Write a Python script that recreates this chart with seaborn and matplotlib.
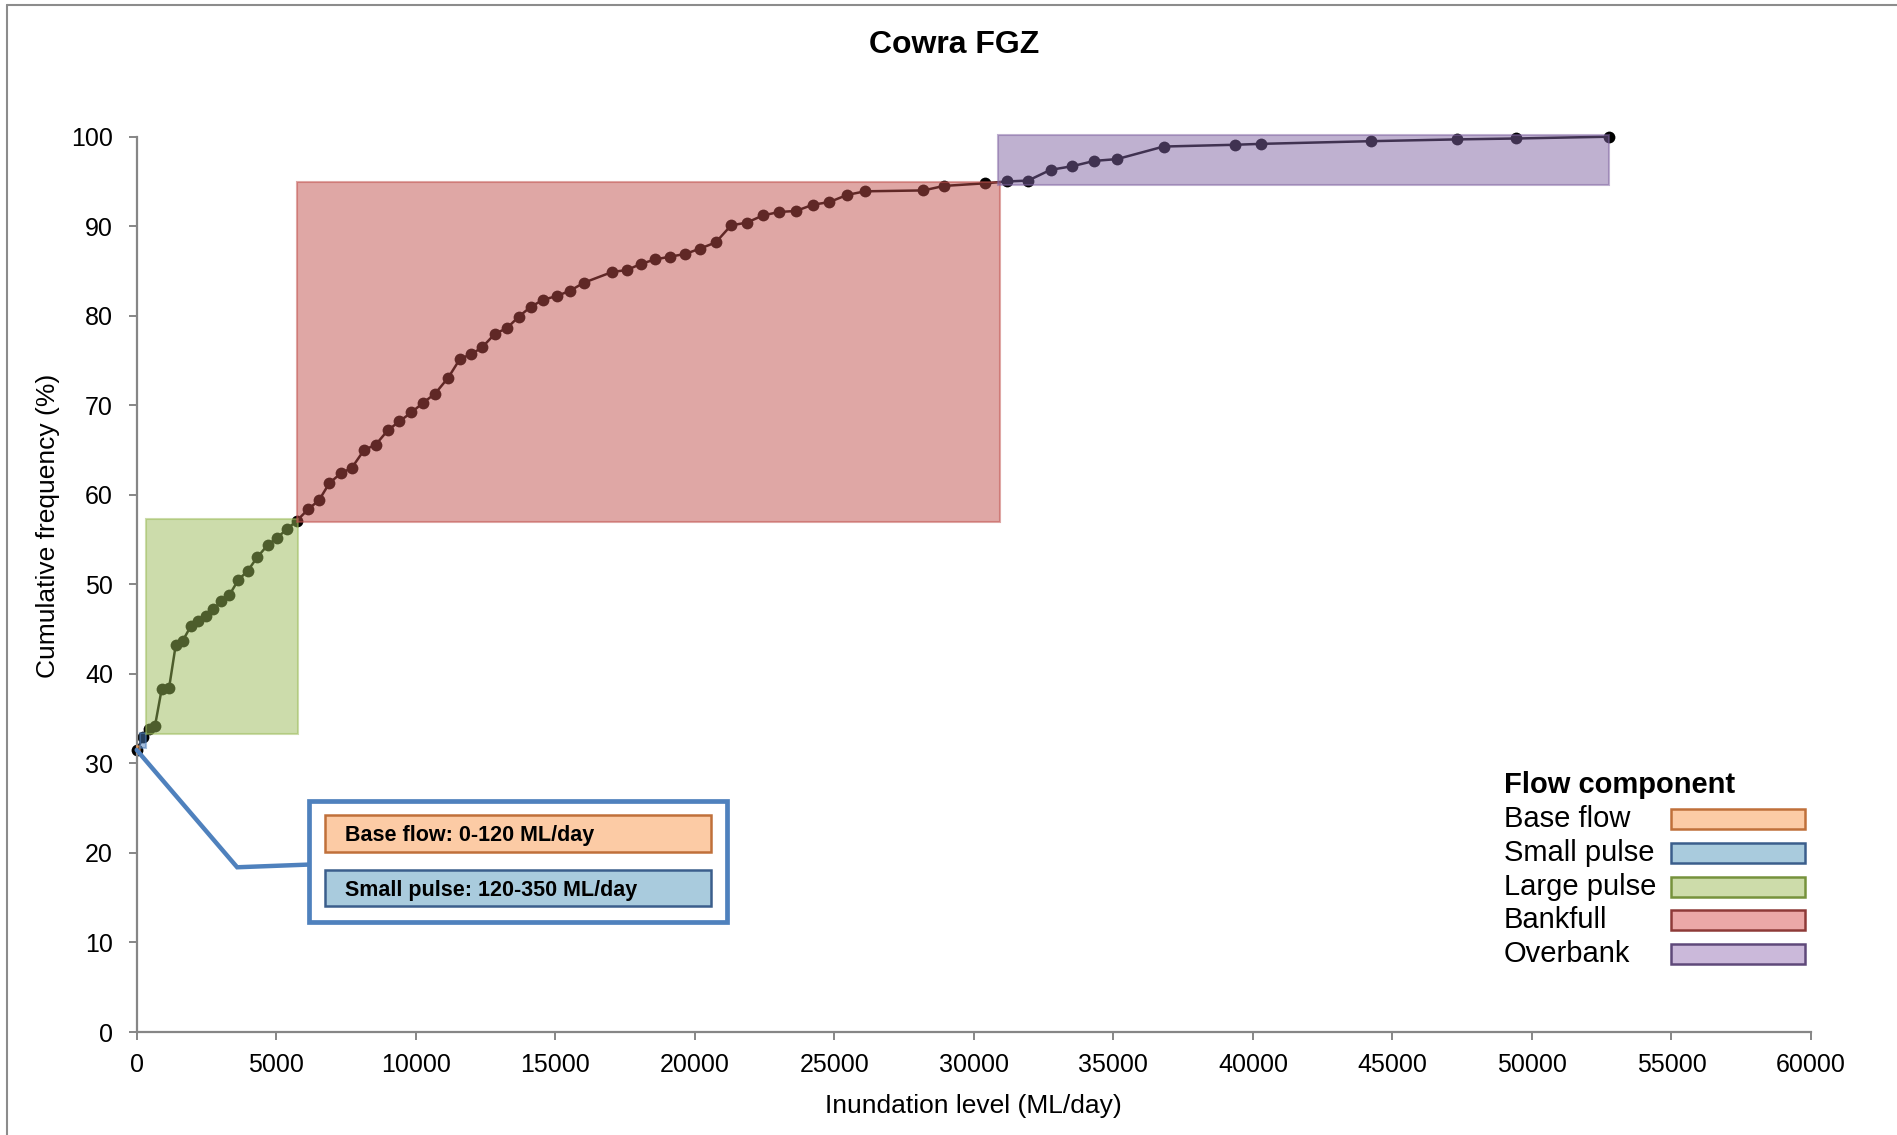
import matplotlib
matplotlib.use("Agg")
import matplotlib.pyplot as plt
import seaborn as sns
import pandas as pd
from matplotlib.patches import Rectangle
from matplotlib.lines import Line2D

# cumulative frequency curve
inundation = [0, 237, 452, 656, 896, 1158, 1398, 1649, 1935, 2208,
              2473, 2746, 3032, 3319, 3642, 3978, 4312, 4695, 5029, 5398,
              5735, 6151, 6534, 6903, 7312, 7706, 8147, 8566, 8996, 9412,
              9842, 10272, 10692, 11168, 11588, 11993, 12387, 12842, 13262, 13692,
              14122, 14574, 15054, 15530, 16032, 17047, 17563, 18075, 18588, 19115,
              19652, 20190, 20753, 21301, 21864, 22437, 23032, 23620, 24229, 24824,
              25459, 26104, 28194, 28925, 30416, 31190, 31946, 32749, 33520, 34323,
              35136, 36799, 39366, 40287, 44219, 47323, 49437, 52753]
cum_freq = [31.5, 32.9, 33.8, 34.2, 38.3, 38.4, 43.2, 43.7, 45.3, 45.9,
            46.5, 47.2, 48.1, 48.8, 50.5, 51.5, 53.0, 54.4, 55.2, 56.2,
            57.1, 58.4, 59.4, 61.3, 62.4, 63.0, 65.0, 65.6, 67.2, 68.2,
            69.2, 70.3, 71.3, 73.1, 75.2, 75.7, 76.5, 78.0, 78.6, 79.9,
            81.0, 81.8, 82.2, 82.8, 83.7, 84.9, 85.1, 85.8, 86.3, 86.6,
            86.9, 87.5, 88.2, 90.1, 90.4, 91.2, 91.6, 91.7, 92.4, 92.7,
            93.5, 93.9, 94.0, 94.5, 94.8, 95.0, 95.1, 96.3, 96.7, 97.3,
            97.5, 98.9, 99.1, 99.2, 99.5, 99.7, 99.8, 100.0]

# flow component zones
zone_names = ["Base flow", "Small pulse", "Large pulse", "Bankfull", "Overbank"]
zone_x_lo = [0, 120, 350, 5730, 30870]
zone_x_hi = [120, 350, 5790, 30920, 52760]
zone_y_lo = [31.2, 31.7, 33.3, 57.0, 94.6]
zone_y_hi = [31.9, 33.4, 57.3, 94.9, 100.2]
zone_colors = ["#F79646", "#4F81BD", "#9BBB59", "#C0504D", "#8064A2"]
legend_face = ["#FCCBA5", "#A9CBDD", "#CDDCAA", "#EBA8A7", "#CBB9DA"]
legend_edge = ["#C0703A", "#3B5E8C", "#76923C", "#8E3A38", "#5F497A"]

callout_labels = ["Base flow: 0-120 ML/day", "Small pulse: 120-350 ML/day"]

df = pd.DataFrame({"x": inundation, "y": cum_freq})

sns.set_theme(style="white")
plt.rcParams["font.family"] = ["Liberation Sans", "DejaVu Sans"]
plt.rcParams["text.color"] = "black"
plt.rcParams["axes.labelcolor"] = "black"

W, H = 1897, 1135
fig = plt.figure(figsize=(W / 100, H / 100), dpi=100)
ax = fig.add_axes([136.7 / W, 1 - 1032 / H, (1811 - 136.7) / W, (1032 - 136.7) / H])

sns.lineplot(data=df, x="x", y="y", ax=ax, color="black", marker="o",
             markersize=8.5, markeredgewidth=0, linewidth=1.8, zorder=2)
for ln in ax.lines:
    ln.set_clip_on(False)

for i in range(len(zone_names)):
    ax.add_patch(Rectangle((zone_x_lo[i], zone_y_lo[i]),
                           zone_x_hi[i] - zone_x_lo[i], zone_y_hi[i] - zone_y_lo[i],
                           facecolor=zone_colors[i], edgecolor=zone_colors[i],
                           alpha=0.5, lw=1.5, zorder=3, clip_on=False))

ax.set_xlim(0, 60000)
ax.set_ylim(0, 100)
ax.set_xticks(range(0, 60001, 5000))
ax.set_yticks(range(0, 101, 10))
for s in ["top", "right"]:
    ax.spines[s].set_visible(False)
for s in ["left", "bottom"]:
    ax.spines[s].set_color("#868686")
    ax.spines[s].set_linewidth(1.6)
ax.tick_params(axis="both", direction="out", length=6, width=1.4, color="#868686",
               labelsize=18, labelcolor="black")
ax.tick_params(axis="y", left=True, pad=11)
ax.tick_params(axis="x", bottom=True, pad=9)
ax.set_xlabel("Inundation level (ML/day)", fontsize=19, labelpad=12)
ax.set_ylabel("Cumulative frequency (%)", fontsize=19, labelpad=8)
ax.yaxis.label.set_y(0.565)
fig.text(954 / W, 1 - 45 / H, "Cowra FGZ", fontsize=23, fontweight="bold",
         ha="center", va="center")

# callout with leader line
ax.plot([inundation[0], 3600, 6160], [cum_freq[0], 18.4, 18.7],
        color="#4F81BD", lw=3.2, zorder=4, solid_joinstyle="miter", clip_on=False)


def fbox(x0, y0, x1, y1, **kw):
    fig.patches.append(Rectangle((x0 / W, 1 - y1 / H), (x1 - x0) / W, (y1 - y0) / H,
                                 transform=fig.transFigure, **kw))


fbox(308.5, 801, 727, 922, facecolor="white", edgecolor="#4F81BD", lw=3.4, zorder=5)
box_rows = [(815.4, 851.7), (869.9, 906.2)]
for (y0, y1), lab, fc, ec in zip(box_rows, callout_labels, legend_face[:2], legend_edge[:2]):
    fbox(325.4, y0, 711.4, y1, facecolor=fc, edgecolor=ec, lw=1.8, zorder=6)
    fig.text(345 / W, 1 - (y0 + y1) / 2 / H - 0.002, lab, fontsize=15.5, fontweight="bold",
             va="center", ha="left", zorder=7)

# legend drawn by hand: labels left, swatches right
fig.text(1504 / W, 1 - 785 / H, "Flow component", fontsize=21, fontweight="bold",
         va="center", ha="left")
for i, name in enumerate(zone_names):
    yc = 819 + i * 33.8
    fig.text(1504 / W, 1 - yc / H, name, fontsize=21, va="center", ha="left")
    fbox(1671, yc - 10, 1805, yc + 10, facecolor=legend_face[i],
         edgecolor=legend_edge[i], lw=1.8)

# outer frame (top and left only visible)
fig.add_artist(Line2D([7 / W, 1], [1 - 5 / H, 1 - 5 / H], transform=fig.transFigure,
                      color="#8C8C8C", lw=1.5))
fig.add_artist(Line2D([7 / W, 7 / W], [0, 1 - 5 / H], transform=fig.transFigure,
                      color="#8C8C8C", lw=1.5))

fig.savefig("out.png", dpi=100, facecolor="white")
